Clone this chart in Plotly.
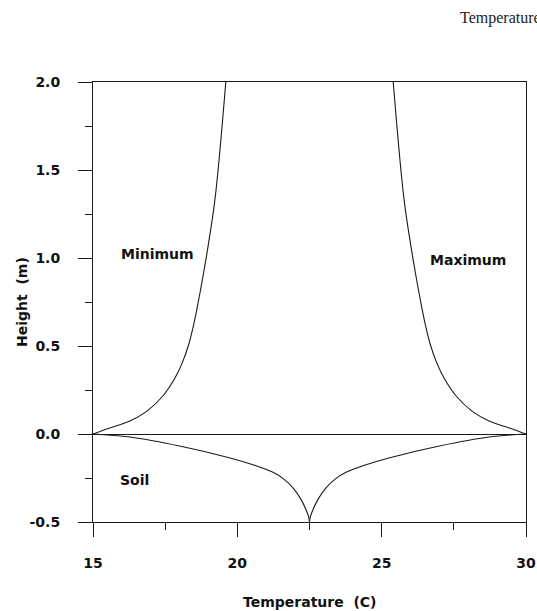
import plotly.graph_objects as go

# Air temperature envelope (height in m, temperature in C)
min_h = [0.0, 0.03, 0.074, 0.13, 0.216, 0.318, 0.4, 0.5, 0.63, 0.77, 1.04, 1.34, 2.0]
min_T = [15.0, 15.5, 16.28, 16.87, 17.42, 17.84, 18.08, 18.3, 18.5, 18.67, 18.96, 19.23, 19.6]
max_h = [0.0, 0.03, 0.074, 0.13, 0.216, 0.318, 0.4, 0.5, 0.63, 0.77, 1.04, 1.34, 2.0]
max_T = [30.0, 29.5, 28.72, 28.13, 27.58, 27.16, 26.92, 26.7, 26.5, 26.33, 26.04, 25.77, 25.4]

# Soil temperature envelope
soil_h = [0.0, -0.017, -0.068, -0.136, -0.178, -0.215, -0.255, -0.31, -0.37, -0.43, -0.47, -0.5]
soil_min_T = [15.0, 16.28, 18.0, 19.75, 20.6, 21.2, 21.6, 21.95, 22.2, 22.38, 22.47, 22.5]
soil_max_T = [30.0, 28.72, 27.0, 25.25, 24.4, 23.8, 23.4, 23.05, 22.8, 22.62, 22.53, 22.5]

x_ticks = [15, 20, 25, 30]
y_ticks = [-0.5, 0.0, 0.5, 1.0, 1.5, 2.0]

LINE = dict(color="#1a1a1a", width=1.1, shape="spline", smoothing=1.0)
FONT = "DejaVu Sans, Liberation Sans, Arial, sans-serif"
TXT = dict(family=FONT, size=14, color="#111", weight="bold")

fig = go.Figure()
for T, h in [(min_T, min_h), (max_T, max_h), (soil_min_T, soil_h), (soil_max_T, soil_h)]:
    fig.add_trace(go.Scatter(x=T, y=h, mode="lines", line=LINE,
                             showlegend=False, hoverinfo="skip"))

axis_common = dict(
    showgrid=False, showline=True, linecolor="#1a1a1a", linewidth=1,
    mirror=True, ticks="outside", ticklen=14, tickwidth=1, tickcolor="#1a1a1a",
    tickfont=TXT, automargin=False,
)
fig.update_xaxes(range=[15, 30], tickvals=x_ticks, ticktext=[str(v) for v in x_ticks],
                 minor=dict(tickvals=[17.5, 22.5, 27.5], ticks="outside", ticklen=7,
                            tickcolor="#1a1a1a"),
                 zeroline=False, ticklabelstandoff=14, **axis_common)
fig.update_yaxes(range=[-0.5, 2.0], tickvals=y_ticks,
                 ticktext=[f"{v:.1f}" for v in y_ticks],
                 minor=dict(tickvals=[-0.25, 0.25, 0.75, 1.25, 1.75], ticks="outside",
                            ticklen=7, tickcolor="#1a1a1a"),
                 zeroline=True, zerolinecolor="#1a1a1a", zerolinewidth=1,
                 ticklabelstandoff=15, **axis_common)

fig.add_annotation(x=17.25, y=1.02, text="Minimum", showarrow=False, font=TXT)
fig.add_annotation(x=28.0, y=0.99, text="Maximum", showarrow=False, font=TXT)
fig.add_annotation(x=16.45, y=-0.26, text="Soil", showarrow=False, font=TXT)
fig.add_annotation(xref="paper", yref="paper", x=0.5, y=0, yshift=-80,
                   xanchor="center", yanchor="middle",
                   text="Temperature  (C)", showarrow=False, font=TXT)
fig.add_annotation(xref="paper", yref="paper", x=0, xshift=-71, y=0.5,
                   xanchor="center", yanchor="middle",
                   text="Height  (m)", textangle=-90, showarrow=False, font=TXT)
fig.add_annotation(xref="paper", yref="paper", x=0, xshift=365, y=1, yshift=64,
                   xanchor="left", yanchor="middle", text="Temperature", showarrow=False,
                   font=dict(family="Liberation Serif, Times New Roman, serif", size=16,
                             color="#222"))

fig.update_layout(
    width=537, height=611,
    margin=dict(l=93, r=11, t=82, b=89),
    paper_bgcolor="white", plot_bgcolor="white",
    showlegend=False,
)

fig.write_html("out.html", config={"displayModeBar": False},
               post_script="document.body.style.margin='0';")
